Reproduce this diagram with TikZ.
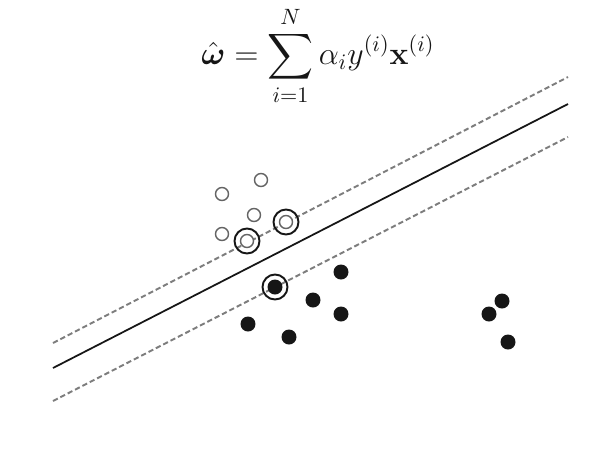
\documentclass[tikz,border=0pt]{standalone}
\usepackage{amsmath,amssymb}
\usetikzlibrary{positioning}
\definecolor{Ink}{RGB}{22,22,22}
\definecolor{Margin}{RGB}{125,125,125}
\definecolor{Hollow}{RGB}{100,100,100}
\tikzset{
  formula/.style={inner sep=0pt,text=Ink,font=\Large,scale=1.26},
  boundary/.style={draw=Ink,line width=1pt},
  margin/.style={draw=Margin,line width=1.1pt,dash pattern=on 3pt off 1.7pt},
  negpt/.style={circle,draw=Hollow,line width=.8pt,fill=white,minimum size=.26cm,inner sep=0pt},
  pospt/.style={circle,fill=Ink,minimum size=.3cm,inner sep=0pt},
  svring/.style={circle,draw=Ink,line width=1.1pt,minimum size=.5cm,inner sep=0pt}
}
\begin{document}
\begin{tikzpicture}[x=0.02cm,y=-0.02cm]
  \useasboundingbox[fill=white] (0,0) rectangle (589,454);
  \node[formula] (w) at (318,56) {$\displaystyle \hat{\boldsymbol{\omega}}=\sum_{i=1}^{N}\alpha_i y^{(i)}\mathbf{x}^{(i)}$};
  % margins and decision boundary
  \coordinate (ua) at (53,343); \coordinate (ub) at (568,77);
  \coordinate (sa) at (53,368); \coordinate (sb) at (568,104);
  \coordinate (la) at (53,401); \coordinate (lb) at (568,137);
  \draw[margin] (ua) -- (ub);
  \draw[boundary] (sa) -- (sb);
  \draw[margin] (la) -- (lb);
  % negative class
  \foreach \n/\x/\y in {o1/261/180,o2/222/194,o3/254/215,o4/222/234,o5/286/222,o6/247/241}
    \node[negpt] (\n) at (\x,\y) {};
  % positive class
  \foreach \n/\x/\y in {f1/275/287,f2/341/272,f3/313/300,f4/341/314,f5/248/324,f6/289/337,f7/502/301,f8/489/314,f9/508/342}
    \node[pospt] (\n) at (\x,\y) {};
  % support vectors
  \foreach \n in {o5,o6,f1}
    \node[svring] (r\n) at (\n) {};
\end{tikzpicture}
\end{document}
